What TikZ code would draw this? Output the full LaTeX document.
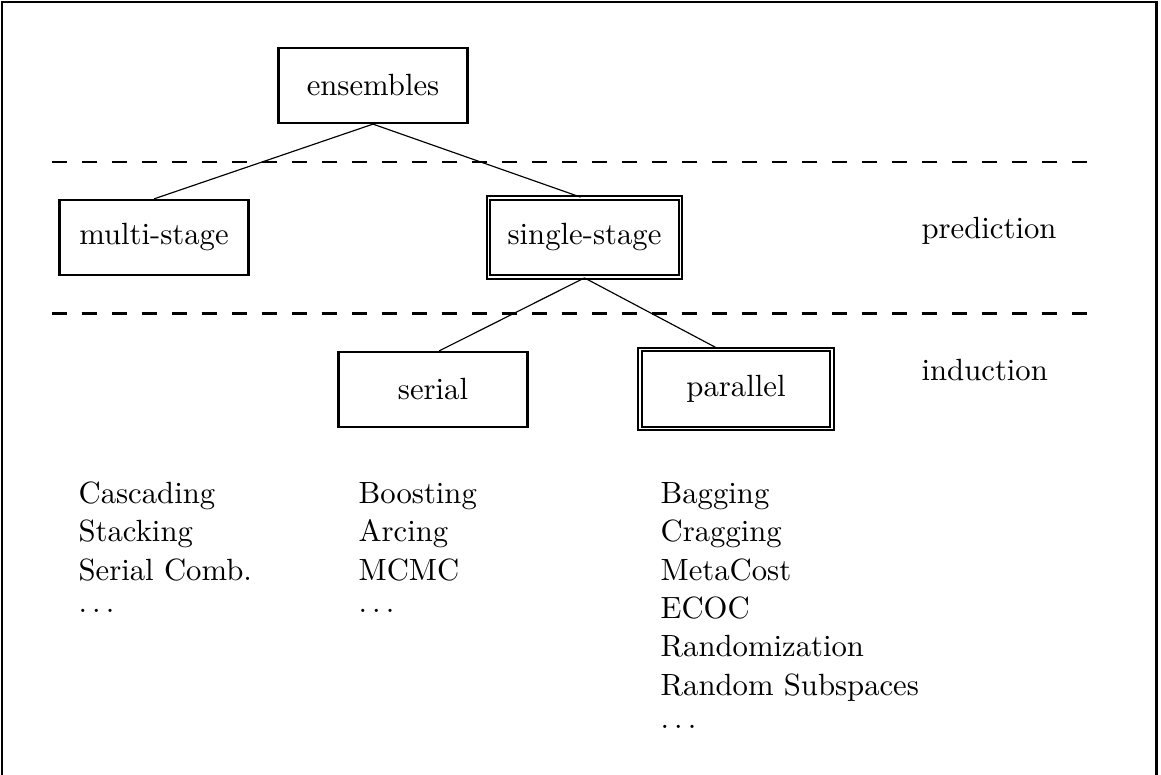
\documentclass[tikz,border=0pt]{standalone}
\begin{document}
\begin{tikzpicture}[x=0.3257pt,y=-0.3257pt,
  box/.style={draw,line width=0.75pt,inner sep=0pt,minimum width=61.6pt,minimum height=24.4pt},
  dbox/.style={draw,line width=0.62pt,double,double distance=0.5pt,inner sep=0pt,minimum width=62.5pt,minimum height=25.7pt},
  link/.style={line width=0.38pt},
  sep1/.style={line width=0.65pt,dash pattern=on 4.9pt off 4.87pt},
  sep2/.style={line width=1pt,dash pattern=on 4.9pt off 4.87pt},
  lbl/.style={anchor=base west,inner sep=0pt}]
\useasboundingbox (0,0) rectangle (1161,774);
\draw[line width=0.78pt] (2,776) -- (2,2) -- (1156.5,2) -- (1156.5,776);
% separators
\draw[sep1] (51.7,162.3) -- (1096,162.3);
\draw[sep2] (51.7,313.3) -- (1096,313.3);
% boxes
\node[box]  (ens)    at (373,85.5)  {ensembles};
\node[box]  (multi)  at (154,237.5) {multi-stage};
\node[dbox] (single) at (584.5,237.5) {single-stage};
\node[box]  (serial) at (433,389.5) {serial};
\node[dbox] (par)    at (736,389)   {parallel};
% connectors
\draw[link] (ens.south) -- (multi.north);
\draw[link] (ens.south) -- ([xshift=-1.3pt]single.north);
\draw[link] (single.south) -- ([xshift=2pt]serial.north);
\draw[link] (single.south) -- ([xshift=-5.9pt]par.north);
% side labels
\node[lbl] (pred) at (921,238) {prediction};
\node[lbl] (ind)  at (921,380) {induction};
% column 1
\node[lbl] (a1) at (78,503.5) {Cascading};
\node[lbl] (a2) at (78,541.8) {Stacking};
\node[lbl] (a3) at (78,580.1) {Serial Comb.};
\node[lbl] (a4) at (78,612)   {$\ldots$};
% column 2
\node[lbl] (b1) at (358,503.5) {Boosting};
\node[lbl] (b2) at (358,541.8) {Arcing};
\node[lbl] (b3) at (358,580.1) {MCMC};
\node[lbl] (b4) at (358,612)   {$\ldots$};
% column 3
\node[lbl] (c1) at (660,503.5) {Bagging};
\node[lbl] (c2) at (660,541.8) {Cragging};
\node[lbl] (c3) at (660,580.1) {MetaCost};
\node[lbl] (c4) at (660,618.4) {ECOC};
\node[lbl] (c5) at (660,656.7) {Randomization};
\node[lbl] (c6) at (660,695)   {Random Subspaces};
\node[lbl] (c7) at (660,728)   {$\ldots$};
\end{tikzpicture}
\end{document}
